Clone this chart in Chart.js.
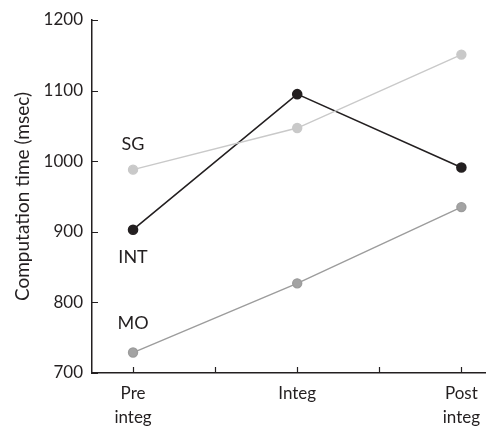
<!DOCTYPE html>
<html>
<head>
<meta charset="utf-8">
<script src="https://cdn.jsdelivr.net/npm/chart.js@4.4.0/dist/chart.umd.min.js"></script>
<style>
  html, body { margin: 0; padding: 0; overflow: hidden; background: #fff; }
  canvas { display: block; }
</style>
</head>
<body>
<canvas id="chart" width="486" height="440"></canvas>
<script>
// data
const stages = ['Pre\ninteg', 'Integ', 'Post\ninteg'];
const stagePositions = [0, 1, 2];
const xTickValues = [0, 0.5, 1, 1.5, 2];
const yTickValues = [700, 800, 900, 1000, 1100, 1200];
const sgTimes = [988, 1047, 1151];
const intTimes = [903, 1095, 991];
const moTimes = [729, 827, 935];
const seriesNames = ['SG', 'INT', 'MO'];
const nameLabelY = [1024, 864, 770];

const ink = '#231f20';
const font = 'Lato, "Open Sans", sans-serif';
const tickLen = 6;

function points(values) {
    return values.map((v, i) => ({ x: stagePositions[i], y: v }));
}

// series names next to the first point, plus tick marks pointing into the plot
const decorations = {
    id: 'decorations',
    afterDatasetsDraw(chart) {
        const { ctx, chartArea, scales: { x, y } } = chart;
        ctx.save();
        ctx.strokeStyle = ink;
        ctx.lineWidth = 1.2;
        ctx.beginPath();
        x.ticks.forEach(t => {
            const px = Math.round(x.getPixelForValue(t.value)) + 0.5;
            ctx.moveTo(px, chartArea.bottom);
            ctx.lineTo(px, chartArea.bottom - tickLen);
        });
        y.ticks.forEach(t => {
            const py = Math.round(y.getPixelForValue(t.value)) + 0.5;
            ctx.moveTo(chartArea.left, py);
            ctx.lineTo(chartArea.left + tickLen, py);
        });
        ctx.stroke();

        ctx.font = '18px ' + font;
        ctx.fillStyle = ink;
        ctx.textAlign = 'center';
        ctx.textBaseline = 'middle';
        seriesNames.forEach((name, i) => {
            ctx.fillText(name, x.getPixelForValue(stagePositions[0]), y.getPixelForValue(nameLabelY[i]));
        });
        ctx.restore();
    }
};

const ctx = document.getElementById('chart').getContext('2d');
new Chart(ctx, {
    type: 'line',
    data: {
        datasets: [
            { label: 'SG', data: points(sgTimes), borderColor: '#c9c9c9', backgroundColor: '#c9c9c9', borderWidth: 1.4 },
            { label: 'INT', data: points(intTimes), borderColor: ink, backgroundColor: ink, borderWidth: 1.6 },
            { label: 'MO', data: points(moTimes), borderColor: '#9c9c9c', backgroundColor: '#a3a3a3', borderWidth: 1.4 }
        ]
    },
    options: {
        responsive: false,
        animation: false,
        layout: { autoPadding: false, padding: { top: 20, right: 0, left: 0, bottom: 0 } },
        elements: {
            point: { radius: 4.5, borderWidth: 0, hoverRadius: 4.5 },
            line: { tension: 0 }
        },
        plugins: {
            legend: { display: false },
            tooltip: { enabled: false }
        },
        scales: {
            x: {
                type: 'linear',
                min: -0.25,
                max: 2.15,
                afterBuildTicks: scale => { scale.ticks = xTickValues.map(v => ({ value: v })); },
                afterFit: scale => {
                    scale.height = 67;
                    scale.paddingLeft = 0;
                    scale.paddingRight = 0;
                },
                border: { color: ink, width: 1.5 },
                grid: { display: false, drawTicks: false },
                ticks: {
                    padding: 8,
                    color: ink,
                    font: { family: font, size: 17, lineHeight: 1.45 },
                    maxRotation: 0,
                    autoSkip: false,
                    callback: value => {
                        const i = stagePositions.indexOf(value);
                        return i >= 0 ? stages[i].split('\n') : '';
                    }
                }
            },
            y: {
                min: 700,
                max: 1200,
                afterBuildTicks: scale => { scale.ticks = yTickValues.map(v => ({ value: v })); },
                afterFit: scale => { scale.width = 92; },
                border: { color: ink, width: 1.5 },
                grid: { display: false, drawTicks: false },
                title: {
                    display: true,
                    text: 'Computation time (msec)',
                    color: ink,
                    font: { family: font, size: 19 },
                    padding: { top: 11, bottom: 0 }
                },
                ticks: {
                    padding: 9,
                    color: ink,
                    font: { family: font, size: 17 },
                    callback: value => String(value)
                }
            }
        }
    },
    plugins: [decorations]
});
</script>
</body>
</html>
